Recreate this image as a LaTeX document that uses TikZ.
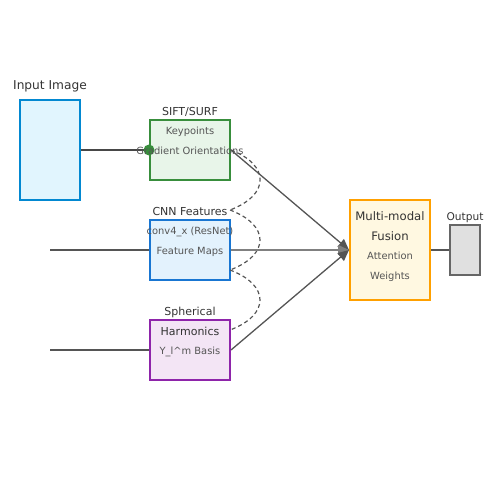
\documentclass[tikz,border=0pt]{standalone}
\usepackage{fontspec}
\setmainfont{DejaVu Sans}
\usetikzlibrary{arrows.meta}

\definecolor{inblue}{HTML}{0288D1}
\definecolor{inbluefill}{HTML}{E1F5FE}
\definecolor{siftgreen}{HTML}{388E3C}
\definecolor{siftfill}{HTML}{E8F5E9}
\definecolor{cnnblue}{HTML}{1976D2}
\definecolor{cnnfill}{HTML}{E3F2FD}
\definecolor{sphpurple}{HTML}{8E24AA}
\definecolor{sphfill}{HTML}{F3E5F5}
\definecolor{fusorange}{HTML}{FFA000}
\definecolor{fusfill}{HTML}{FFF8E1}
\definecolor{outgray}{HTML}{666666}
\definecolor{outfill}{HTML}{E0E0E0}
\definecolor{linegray}{HTML}{555555}
\definecolor{titlegray}{HTML}{333333}

\begin{document}
\begin{tikzpicture}[x=1pt, y=-1pt]
\useasboundingbox (0,0) rectangle (500,500);
\begin{scope}
	\tikzstyle{every node}=[inner sep=0pt, align=center]
	\tikzstyle{box}=[draw, line width=2pt, rectangle, minimum width=80pt, minimum height=60pt]
	\tikzstyle{title}=[anchor=base, yshift=-4pt, text=titlegray, font=\fontsize{11}{13}\selectfont]
	\tikzstyle{sub}=[anchor=base, yshift=-3.6pt, text=linegray, font=\fontsize{9.9}{12}\selectfont]
	\node[box, draw=inblue, fill=inbluefill, minimum width=60pt, minimum height=100pt] (img) at (50,150) {};
	\node[title, font=\fontsize{12.2}{14}\selectfont] (imgl) at (50,86) {Input Image};

	\node[box, draw=siftgreen, fill=siftfill] (sift) at (190,150) {};
	\node[title] (siftl) at (190,111) {SIFT/SURF};
	\node[sub] (sift1) at (190,131) {Keypoints};

	\node[box, draw=cnnblue, fill=cnnfill] (cnn) at (190,250) {};
	\node[title] (cnnl) at (190,211) {CNN Features};
	\node[sub] (cnn1) at (190,231) {conv4\_x (ResNet)};
	\node[sub] (cnn2) at (190,251) {Feature Maps};

	\node[box, draw=sphpurple, fill=sphfill] (sph) at (190,350) {};
	\node[title] (sphl) at (190,311) {Spherical};
	\node[title] (sph1) at (190,331) {Harmonics};
	\node[sub] (sph2) at (190,351) {Y\_l\textasciicircum m Basis};

	\node[box, draw=fusorange, fill=fusfill, minimum height=100pt] (fus) at (390,250) {};
	\node[title, font=\fontsize{11.7}{14}\selectfont] (fus1) at (390,216) {Multi-modal};
	\node[title, font=\fontsize{11.7}{14}\selectfont] (fus2) at (390,236) {Fusion};
	\node[sub] (fus3) at (390,256) {Attention};
	\node[sub] (fus4) at (390,276) {Weights};

	\node[box, draw=outgray, fill=outfill, minimum width=30pt, minimum height=50pt] (out) at (465,250) {};
	\node[title, font=\fontsize{10.6}{13}\selectfont] (outl) at (465,216) {Output};

	\coordinate (in2) at (50,250);
	\coordinate (in3) at (50,350);
	\coordinate (w2) at (230,210);
	\coordinate (w3) at (230,270);
	\coordinate (w4) at (230,330);

	\draw [line width=2pt, color=titlegray!90] (img.east) -- (sift.west);
	\draw [line width=2pt, color=linegray] (in2) -- (cnn.west);
	\draw [line width=2pt, color=linegray] (in3) -- (sph.west);
	\fill [siftgreen] (sift.west) circle (5.5pt);
	\node[sub] (sift2) at (190,151) {Gradient Orientations};

	\draw [line width=1.2pt, dash pattern=on 4pt off 3pt, color=linegray] (sift.east) .. controls (270,165) and (270,195) .. (w2);
	\draw [line width=1.2pt, dash pattern=on 4pt off 3pt, color=linegray] (w2) .. controls (270,225) and (270,255) .. (w3);
	\draw [line width=1.2pt, dash pattern=on 4pt off 3pt, color=linegray] (w3) .. controls (270,285) and (270,315) .. (w4);

	\draw [line width=1.3pt, color=linegray][-{Triangle[length=11pt,width=10pt]}] (sift.east) -- (fus.west);
	\draw [line width=1.5pt, color=gray][-{Triangle[length=11pt,width=10pt]}] (cnn.east) -- (fus.west);
	\draw [line width=1.3pt, color=linegray][-{Triangle[length=11pt,width=10pt]}] (sph.east) -- (fus.west);
	\draw [line width=2pt, color=linegray] (fus.east) -- (out.west);
\end{scope}
\end{tikzpicture}
\end{document}
